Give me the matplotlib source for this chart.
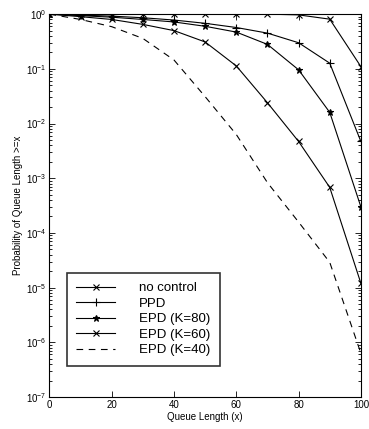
import numpy as np
import matplotlib
matplotlib.use('Agg')
import matplotlib.pyplot as plt
from matplotlib.ticker import LogLocator, NullFormatter

plt.rcParams['font.family'] = ['Liberation Sans', 'DejaVu Sans']
plt.rcParams['mathtext.default'] = 'regular'

# Queue length values (x axis)
queue_len = [0, 10, 20, 30, 40, 50, 60, 70, 80, 90, 100]

# Probability of queue length >= x
no_control = [1.0, 1.0, 1.0, 1.0, 1.0, 1.0, 1.0, 1.0, 0.97, 0.81, 0.11]
ppd = [1.0, 0.96, 0.92, 0.86, 0.78, 0.68, 0.57, 0.45, 0.30, 0.127, 0.0047]
epd_80 = [1.0, 0.94, 0.88, 0.80, 0.72, 0.60, 0.47, 0.28, 0.096, 0.016, 3.0e-4]
epd_60 = [1.0, 0.90, 0.80, 0.65, 0.50, 0.31, 0.113, 0.024, 0.0047, 6.8e-4, 1.2e-5]
epd_40 = [1.0, 0.80, 0.59, 0.36, 0.145, 0.031, 0.0063, 8.3e-4, 1.58e-4, 2.9e-5, 6.3e-7]

y_exponents = [0, -1, -2, -3, -4, -5, -6, -7]

fig = plt.figure(figsize=(3.69, 4.29), dpi=100)
ax = fig.add_axes([0.134, 0.0746, 0.844, 0.8924])

ax.semilogy(queue_len, no_control, 'k-', marker='x', ms=4, mew=0.8, lw=0.8, label='no control')
ax.semilogy(queue_len, ppd, 'k-', marker='+', ms=6, mew=0.8, lw=0.8, label='PPD')
ax.semilogy(queue_len, epd_80, 'k-', marker='*', ms=5, mew=0.8, lw=0.8, label='EPD (K=80)')
ax.semilogy(queue_len, epd_60, 'k-', marker='x', ms=4, mew=0.8, lw=0.8, label='EPD (K=60)')
ax.semilogy(queue_len, epd_40, 'k--', lw=0.8, dashes=(6, 5), label='EPD (K=40)')

ax.set_xlim(0, 100)
ax.set_ylim(1e-7, 1)
ax.set_xticks([0, 20, 40, 60, 80, 100])
ax.set_yticks([10.0 ** e for e in y_exponents],
              [r'$10^{%d}$' % e for e in y_exponents])
ax.yaxis.set_minor_locator(LogLocator(base=10, subs=np.arange(2, 10), numticks=10))
ax.yaxis.set_minor_formatter(NullFormatter())
ax.tick_params(which='both', direction='in', top=True, right=True, labelsize=7, width=0.6, pad=2)
ax.tick_params(which='major', length=4)
ax.tick_params(which='minor', length=2)
for s in ax.spines.values():
    s.set_linewidth(0.8)

ax.set_xlabel('Queue Length (x)', fontsize=7, labelpad=1.5)
ax.set_ylabel('Probability of Queue Length >=x', fontsize=7, labelpad=2)

leg = ax.legend(loc='lower left', bbox_to_anchor=(0.055, 0.082), fontsize=9.5,
                frameon=True, fancybox=False, edgecolor='black',
                handlelength=3.0, handletextpad=1.8, labelspacing=0.25,
                borderpad=0.7, borderaxespad=0)
leg.get_frame().set_linewidth(1.2)

fig.savefig('out.png', dpi=100)
